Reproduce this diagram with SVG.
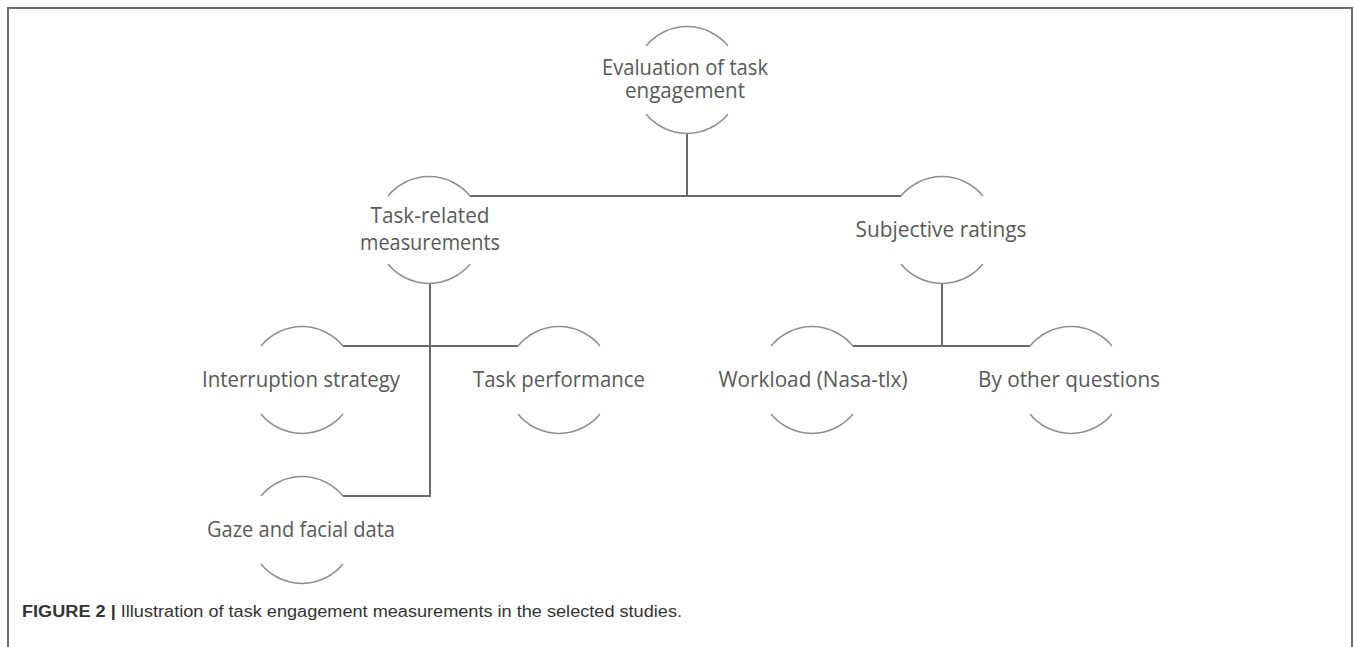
<svg xmlns="http://www.w3.org/2000/svg" width="1354" height="647" viewBox="0 0 1354 647">
<style>
.arc{fill:none;stroke:#8f8f8f;stroke-width:1.5}
.lbl{font-family:"Open Sans","Noto Sans",sans-serif;font-size:21px;fill:#595959;text-anchor:middle}
.conn{fill:none;stroke:#6a6a6a;stroke-width:2}
.frame{fill:none;stroke:#6e6e6e;stroke-width:2}
.cap{font-family:"Liberation Sans",Arial,sans-serif;font-size:16px;fill:#333}
</style>
<rect width="1354" height="647" fill="#fff"/>
<path class="frame" d="M8,647 V8 H1352 V647"/>
<g id="connectors">
<path class="conn" d="M687,133 V196"/>
<path class="conn" d="M470,196 H901"/>
<path class="conn" d="M942,283 V346"/>
<path class="conn" d="M853,346 H1030"/>
<path class="conn" d="M343,346 H518"/>
<path class="conn" d="M430,283 V496 H343"/>
</g>
<g id="n-eval">
<path class="arc" d="M646,46 A53,53 0 0 1 728,46 M646,114 A53,53 0 0 0 728,114"/>
<text class="lbl" x="685" y="75" textLength="166" lengthAdjust="spacingAndGlyphs">Evaluation of task</text>
<text class="lbl" x="685" y="98" textLength="120" lengthAdjust="spacingAndGlyphs">engagement</text>
</g>
<g id="n-task">
<path class="arc" d="M388,196 A53,53 0 0 1 470,196 M388,264 A53,53 0 0 0 470,264"/>
<text class="lbl" x="430" y="223" textLength="119" lengthAdjust="spacingAndGlyphs">Task-related</text>
<text class="lbl" x="430" y="250" textLength="140" lengthAdjust="spacingAndGlyphs">measurements</text>
</g>
<g id="n-subj">
<path class="arc" d="M901,196 A53,53 0 0 1 983,196 M901,264 A53,53 0 0 0 983,264"/>
<text class="lbl" x="941" y="237" textLength="171" lengthAdjust="spacingAndGlyphs">Subjective ratings</text>
</g>
<g id="n-interrupt">
<path class="arc" d="M261,346 A53,53 0 0 1 343,346 M261,414 A53,53 0 0 0 343,414"/>
<text class="lbl" x="301" y="387" textLength="198" lengthAdjust="spacingAndGlyphs">Interruption strategy</text>
</g>
<g id="n-perf">
<path class="arc" d="M518,346 A53,53 0 0 1 600,346 M518,414 A53,53 0 0 0 600,414"/>
<text class="lbl" x="559" y="387" textLength="172" lengthAdjust="spacingAndGlyphs">Task performance</text>
</g>
<g id="n-gaze">
<path class="arc" d="M261,496 A53,53 0 0 1 343,496 M261,564 A53,53 0 0 0 343,564"/>
<text class="lbl" x="301" y="537" textLength="188" lengthAdjust="spacingAndGlyphs">Gaze and facial data</text>
</g>
<g id="n-workload">
<path class="arc" d="M771,346 A53,53 0 0 1 853,346 M771,414 A53,53 0 0 0 853,414"/>
<text class="lbl" x="813" y="387" textLength="189" lengthAdjust="spacingAndGlyphs">Workload (Nasa-tlx)</text>
</g>
<g id="n-other">
<path class="arc" d="M1030,346 A53,53 0 0 1 1112,346 M1030,414 A53,53 0 0 0 1112,414"/>
<text class="lbl" x="1069" y="387" textLength="182" lengthAdjust="spacingAndGlyphs">By other questions</text>
</g>
<text class="cap" x="22" y="617" textLength="660" lengthAdjust="spacingAndGlyphs"><tspan font-weight="bold">FIGURE 2 |</tspan> Illustration of task engagement measurements in the selected studies.</text>
</svg>
